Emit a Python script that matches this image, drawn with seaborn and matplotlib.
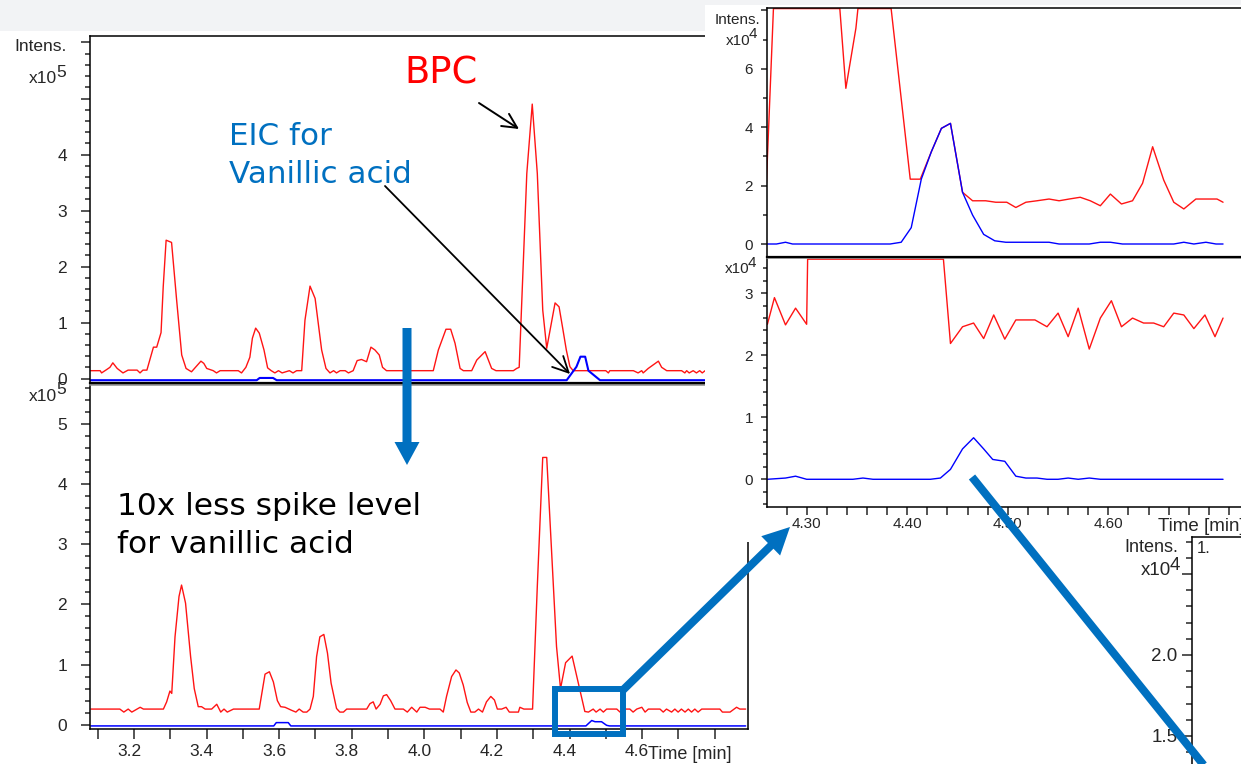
import numpy as np
import matplotlib
matplotlib.use("Agg")
import matplotlib.pyplot as plt
import seaborn as sns
from matplotlib.patches import Rectangle, FancyArrow
from matplotlib.ticker import MultipleLocator, FixedLocator, FuncFormatter
from matplotlib.transforms import ScaledTranslation

# ---------------------------------------------------------------- data
# Run 1 (full spike level): time [min], intensity [x1e5]
a_bpc_t = [3.122, 3.148, 3.152, 3.166, 3.175, 3.183, 3.195, 3.211, 3.225, 3.250, 3.258, 3.266,
           3.277, 3.295, 3.304, 3.316, 3.322, 3.330, 3.345, 3.359, 3.373, 3.385, 3.400, 3.426,
           3.434, 3.442, 3.460, 3.469, 3.479, 3.529, 3.538, 3.550, 3.561, 3.568, 3.577, 3.587,
           3.600, 3.610, 3.620, 3.630, 3.640, 3.650, 3.670, 3.680, 3.690, 3.704, 3.713, 3.727,
           3.741, 3.759, 3.771, 3.782, 3.792, 3.800, 3.810, 3.824, 3.833, 3.846, 3.857, 3.869,
           3.883, 3.895, 3.906, 3.918, 3.927, 3.938, 4.067, 4.081, 4.102, 4.115, 4.127, 4.141,
           4.150, 4.173, 4.187, 4.210, 4.228, 4.240, 4.288, 4.297, 4.304, 4.325, 4.340, 4.354,
           4.369, 4.380, 4.403, 4.414, 4.424, 4.434, 4.444, 4.453, 4.504, 4.543, 4.550, 4.554,
           4.619, 4.632, 4.642, 4.646, 4.660, 4.688, 4.697, 4.711, 4.752, 4.761, 4.766, 4.773,
           4.784, 4.793, 4.802, 4.809, 4.817]
a_bpc_i = [0.14, 0.14, 0.10, 0.16, 0.20, 0.28, 0.18, 0.10, 0.15, 0.15, 0.10, 0.15,
           0.15, 0.56, 0.56, 0.82, 1.64, 2.47, 2.43, 1.40, 0.42, 0.18, 0.12, 0.31,
           0.27, 0.18, 0.14, 0.10, 0.14, 0.14, 0.10, 0.20, 0.38, 0.72, 0.90, 0.81,
           0.51, 0.19, 0.14, 0.10, 0.14, 0.10, 0.14, 0.10, 0.14, 0.14, 1.04, 1.65,
           1.43, 0.51, 0.18, 0.10, 0.14, 0.10, 0.14, 0.14, 0.10, 0.14, 0.32, 0.34,
           0.30, 0.56, 0.51, 0.42, 0.20, 0.14, 0.14, 0.51, 0.88, 0.88, 0.63, 0.18,
           0.14, 0.14, 0.33, 0.48, 0.18, 0.14, 0.14, 0.18, 0.20, 3.66, 4.90, 3.66,
           1.22, 0.54, 1.35, 1.28, 0.90, 0.51, 0.21, 0.14, 0.14, 0.14, 0.10, 0.14,
           0.14, 0.10, 0.14, 0.10, 0.18, 0.31, 0.20, 0.14, 0.14, 0.10, 0.14, 0.10,
           0.14, 0.10, 0.14, 0.10, 0.14]
a_eic_t = [3.122, 3.580, 3.588, 3.625, 3.635, 4.435, 4.462, 4.473, 4.486, 4.495, 4.527, 4.817]
a_eic_i = [-0.03, -0.03, 0.01, 0.01, -0.03, -0.03, 0.21, 0.39, 0.39, 0.14, -0.03, -0.03]

# Run 2 (10x less spike level): time [min], intensity [x1e5]
b_bpc_t = [3.081, 3.161, 3.172, 3.184, 3.194, 3.217, 3.226, 3.281, 3.290, 3.299, 3.304, 3.313,
           3.324, 3.331, 3.342, 3.356, 3.366, 3.377, 3.386, 3.396, 3.414, 3.428, 3.439, 3.448,
           3.457, 3.474, 3.545, 3.561, 3.573, 3.584, 3.595, 3.604, 3.616, 3.634, 3.646, 3.655,
           3.666, 3.676, 3.685, 3.694, 3.703, 3.712, 3.723, 3.733, 3.743, 3.758, 3.767, 3.777,
           3.786, 3.841, 3.850, 3.859, 3.867, 3.878, 3.887, 3.896, 3.907, 3.919, 3.942, 3.953,
           3.965, 3.979, 3.988, 4.002, 4.014, 4.043, 4.052, 4.061, 4.075, 4.087, 4.096, 4.107,
           4.118, 4.128, 4.139, 4.149, 4.160, 4.171, 4.183, 4.193, 4.201, 4.213, 4.225, 4.234,
           4.259, 4.263, 4.274, 4.298, 4.311, 4.326, 4.337, 4.353, 4.364, 4.375, 4.389, 4.407,
           4.424, 4.442, 4.452, 4.465, 4.473, 4.484, 4.493, 4.502, 4.530, 4.539, 4.548, 4.566,
           4.575, 4.585, 4.599, 4.608, 4.617, 4.649, 4.658, 4.667, 4.681, 4.690, 4.699, 4.708,
           4.718, 4.727, 4.736, 4.745, 4.754, 4.764, 4.814, 4.821, 4.842, 4.860, 4.869, 4.885]
b_bpc_i = [0.26, 0.26, 0.21, 0.26, 0.21, 0.29, 0.26, 0.26, 0.38, 0.56, 0.52, 1.46,
           2.13, 2.32, 2.02, 1.13, 0.60, 0.30, 0.30, 0.26, 0.26, 0.34, 0.21, 0.26,
           0.21, 0.26, 0.26, 0.84, 0.88, 0.71, 0.40, 0.30, 0.29, 0.24, 0.21, 0.26,
           0.21, 0.21, 0.26, 0.47, 1.13, 1.46, 1.50, 1.19, 0.69, 0.27, 0.21, 0.21,
           0.26, 0.26, 0.35, 0.38, 0.26, 0.34, 0.48, 0.50, 0.40, 0.26, 0.26, 0.21,
           0.29, 0.21, 0.29, 0.29, 0.26, 0.26, 0.21, 0.47, 0.80, 0.91, 0.86, 0.66,
           0.37, 0.21, 0.21, 0.26, 0.21, 0.38, 0.47, 0.41, 0.26, 0.26, 0.29, 0.21,
           0.21, 0.29, 0.26, 0.26, 2.29, 4.44, 4.44, 2.57, 1.30, 0.60, 1.03, 1.14,
           0.69, 0.22, 0.21, 0.26, 0.21, 0.26, 0.21, 0.26, 0.26, 0.21, 0.26, 0.26,
           0.21, 0.26, 0.29, 0.21, 0.26, 0.26, 0.21, 0.26, 0.21, 0.26, 0.21, 0.26,
           0.21, 0.26, 0.21, 0.26, 0.21, 0.26, 0.26, 0.21, 0.21, 0.29, 0.26, 0.26]
b_eic_t = [3.081, 3.585, 3.592, 3.625, 3.632, 4.445, 4.452, 4.461, 4.470, 4.488, 4.502, 4.510, 4.885]
b_eic_i = [-0.02, -0.02, 0.035, 0.035, -0.02, -0.02, 0.02, 0.07, 0.05, 0.05, -0.01, -0.02, -0.02]

# Run 1, zoomed: time [min], intensity [x1e4] (BPC saturates above the range)
c_bpc_t = [4.260, 4.267, 4.333, 4.339, 4.349, 4.351, 4.384, 4.403, 4.413, 4.424, 4.434, 4.443,
           4.455, 4.465, 4.478, 4.488, 4.499, 4.508, 4.518, 4.529, 4.541, 4.551, 4.561, 4.572,
           4.582, 4.592, 4.602, 4.613, 4.624, 4.634, 4.644, 4.655, 4.665, 4.675, 4.687, 4.708,
           4.714]
c_bpc_i = [2.08, 9.50, 9.50, 5.33, 7.39, 9.50, 9.50, 2.22, 2.22, 3.16, 3.96, 4.13,
           1.77, 1.48, 1.48, 1.43, 1.43, 1.25, 1.43, 1.48, 1.54, 1.48, 1.54, 1.60,
           1.48, 1.31, 1.71, 1.37, 1.48, 2.08, 3.33, 2.19, 1.43, 1.20, 1.54, 1.54,
           1.43]
c_eic_t = [4.260, 4.270, 4.279, 4.286, 4.383, 4.394, 4.404, 4.414, 4.424, 4.434, 4.443, 4.455,
           4.465, 4.476, 4.487, 4.498, 4.541, 4.551, 4.581, 4.592, 4.602, 4.614, 4.665, 4.675,
           4.685, 4.697, 4.707, 4.714]
c_eic_i = [0.00, 0.00, 0.06, 0.00, 0.00, 0.06, 0.56, 2.22, 3.16, 3.96, 4.13, 1.77,
           0.99, 0.33, 0.11, 0.06, 0.06, 0.00, 0.00, 0.06, 0.06, 0.00, 0.00, 0.06,
           0.00, 0.06, 0.00, 0.00]

# Run 2, zoomed: time [min], intensity [x1e4]
d_bpc_t = [4.261, 4.268, 4.279, 4.289, 4.300, 4.301, 4.436, 4.443, 4.455, 4.466, 4.476, 4.486,
           4.497, 4.508, 4.527, 4.539, 4.550, 4.560, 4.570, 4.581, 4.592, 4.603, 4.613, 4.624,
           4.635, 4.645, 4.655, 4.665, 4.675, 4.685, 4.696, 4.706, 4.714]
d_bpc_i = [2.50, 2.93, 2.49, 2.76, 2.50, 4.50, 4.50, 2.19, 2.46, 2.52, 2.27, 2.65,
           2.26, 2.57, 2.57, 2.46, 2.68, 2.30, 2.76, 2.10, 2.60, 2.88, 2.46, 2.60,
           2.52, 2.52, 2.46, 2.68, 2.65, 2.43, 2.65, 2.30, 2.60]
d_eic_t = [4.261, 4.270, 4.279, 4.289, 4.300, 4.346, 4.356, 4.366, 4.423, 4.433, 4.443, 4.455,
           4.466, 4.476, 4.485, 4.497, 4.508, 4.518, 4.529, 4.539, 4.550, 4.560, 4.570, 4.581,
           4.592, 4.714]
d_eic_i = [0.00, 0.01, 0.02, 0.05, 0.00, 0.00, 0.02, 0.00, 0.00, 0.02, 0.16, 0.49,
           0.67, 0.49, 0.32, 0.29, 0.05, 0.02, 0.02, 0.00, 0.00, 0.02, 0.00, 0.02,
           0.00, 0.00]

# ---------------------------------------------------------------- style
sns.set_style("ticks")
plt.rcParams["font.family"] = ["Liberation Sans", "DejaVu Sans"]
NOTE_FONT = ["DejaVu Sans"]

W, H = 1241, 764
RED = "#ff1414"
EIC_BLUE = "#0000ff"
NOTE_BLUE = "#0070c0"
SPINE_W = 1.1

fig = plt.figure(figsize=(W / 100, H / 100), dpi=100, facecolor="white")


def box(x0, y0, x1, y1):
    """Axes rectangle from pixel corners (origin top-left)."""
    return [x0 / W, 1 - y1 / H, (x1 - x0) / W, (y1 - y0) / H]


def layer(z):
    ax = fig.add_axes([0, 0, 1, 1], zorder=z)
    ax.set_xlim(0, W)
    ax.set_ylim(H, 0)
    ax.axis("off")
    return ax


def trace(ax, t, v, color, lw, top=None):
    v = np.asarray(v, float)
    if top is not None:
        v = np.minimum(v, top)
    sns.lineplot(x=t, y=v, ax=ax, color=color, linewidth=lw, sort=False,
                 estimator=None, legend=False)


def frame(ax):
    for s in ax.spines.values():
        s.set_linewidth(SPINE_W)
        s.set_color("black")
    ax.set_xlabel("")
    ax.set_ylabel("")


# background strip
bg = layer(0)
bg.add_patch(Rectangle((0, 0), W, 31, facecolor="#f2f3f5", edgecolor="none"))

# ---------------------------------------------------------------- run 1 overview
ax_a = fig.add_axes(box(90, 36, 705, 383), zorder=1.2)
trace(ax_a, a_bpc_t, a_bpc_i, RED, 1.0)
trace(ax_a, a_eic_t, a_eic_i, EIC_BLUE, 1.5)
ax_a.set_xlim(3.12, 4.8166)
ax_a.set_ylim(-0.08, 6.116)
frame(ax_a)
ax_a.spines["right"].set_visible(False)
ax_a.spines["bottom"].set_linewidth(1.6)
ax_a.set_xticks([])
ax_a.yaxis.set_major_locator(FixedLocator(range(7)))
ax_a.yaxis.set_major_formatter(FuncFormatter(lambda v, p: f"{v:.0f}" if v <= 4 else ""))
ax_a.yaxis.set_minor_locator(MultipleLocator(0.2))
ax_a.tick_params(axis="y", which="major", direction="out", length=6.5, width=SPINE_W,
                 pad=10, labelsize=12.5)
ax_a.tick_params(axis="y", which="minor", direction="out", length=3.6, width=SPINE_W)

# ---------------------------------------------------------------- run 2 overview
ax_b = fig.add_axes(box(90, 384, 748, 729), zorder=1.0)
trace(ax_b, b_bpc_t, b_bpc_i, RED, 1.0)
trace(ax_b, b_eic_t, b_eic_i, EIC_BLUE, 1.1)
ax_b.set_xlim(3.0788, 4.8915)
ax_b.set_ylim(-0.071, 5.66)
frame(ax_b)
ax_b.spines["top"].set_color("#8a8a8a")
ax_b.spines["top"].set_linewidth(1.8)
ax_b.yaxis.set_major_locator(FixedLocator(range(6)))
ax_b.yaxis.set_major_formatter(FuncFormatter(lambda v, p: f"{v:.0f}"))
ax_b.yaxis.set_minor_locator(MultipleLocator(0.2))
ax_b.xaxis.set_major_locator(FixedLocator(np.round(np.arange(3.2, 4.61, 0.2), 1)))
ax_b.xaxis.set_major_formatter(FuncFormatter(lambda v, p: f"{v:.1f}"))
ax_b.xaxis.set_minor_locator(MultipleLocator(0.1))
ax_b.tick_params(axis="y", which="major", direction="out", length=6.5, width=SPINE_W,
                 pad=10, labelsize=12.5)
ax_b.tick_params(axis="y", which="minor", direction="out", length=3.6, width=SPINE_W)
ax_b.tick_params(axis="x", which="both", direction="out", length=7, width=SPINE_W,
                 pad=3.5, labelsize=12.5)
shift = ScaledTranslation(-5 / 100, 0, fig.dpi_scale_trans)
for lab in ax_b.get_xticklabels():
    lab.set_transform(lab.get_transform() + shift)

# white panel holding the zoomed traces
cover = layer(2)
cover.add_patch(Rectangle((705, 5), W - 705, 537, facecolor="white", edgecolor="none"))

# ---------------------------------------------------------------- run 1 zoom
ax_c = fig.add_axes(box(767, 8, 1250, 257), zorder=3.2)
C_TOP = 8.06
trace(ax_c, c_bpc_t, c_bpc_i, RED, 1.0, top=C_TOP)
trace(ax_c, c_eic_t, c_eic_i, EIC_BLUE, 1.0)
ax_c.set_xlim(4.2606, 4.7408)
ax_c.set_ylim(-0.445, 8.08)
frame(ax_c)
ax_c.spines["right"].set_visible(False)
ax_c.spines["bottom"].set_linewidth(1.6)
ax_c.set_xticks([])
ax_c.yaxis.set_major_locator(FixedLocator([0, 2, 4, 6, 8]))
ax_c.yaxis.set_major_formatter(FuncFormatter(lambda v, p: f"{v:.0f}" if v <= 6 else ""))
ax_c.yaxis.set_minor_locator(FixedLocator([1, 3, 5, 7]))
ax_c.tick_params(axis="y", which="major", direction="out", length=4.5, width=SPINE_W,
                 pad=5.5, labelsize=11)
ax_c.tick_params(axis="y", which="minor", direction="out", length=3, width=SPINE_W)

# ---------------------------------------------------------------- run 2 zoom
ax_d = fig.add_axes(box(767, 257, 1250, 507), zorder=3.0)
D_TOP = 3.55
trace(ax_d, d_bpc_t, d_bpc_i, RED, 1.0, top=D_TOP)
trace(ax_d, d_eic_t, d_eic_i, EIC_BLUE, 1.0)
ax_d.set_xlim(4.2606, 4.7408)
ax_d.set_ylim(-0.447, 3.585)
frame(ax_d)
ax_d.spines["right"].set_visible(False)
ax_d.spines["top"].set_color("#8a8a8a")
ax_d.spines["top"].set_linewidth(1.8)
ax_d.yaxis.set_major_locator(FixedLocator(range(4)))
ax_d.yaxis.set_major_formatter(FuncFormatter(lambda v, p: f"{v:.0f}"))
ax_d.yaxis.set_minor_locator(MultipleLocator(0.2))
ax_d.xaxis.set_major_locator(FixedLocator([4.3, 4.4, 4.5, 4.6]))
ax_d.xaxis.set_major_formatter(FuncFormatter(lambda v, p: f"{v:.2f}"))
ax_d.xaxis.set_minor_locator(MultipleLocator(0.02))
ax_d.tick_params(axis="y", which="major", direction="out", length=4.5, width=SPINE_W,
                 pad=5.5, labelsize=11)
ax_d.tick_params(axis="y", which="minor", direction="out", length=3, width=SPINE_W)
ax_d.tick_params(axis="x", which="both", direction="out", length=5.5, width=SPINE_W,
                 pad=1.5, labelsize=11)

# ---------------------------------------------------------------- third trace window (partly shown)
ax_e = fig.add_axes(box(1192, 537, 1300, 800), zorder=3.0)
ax_e.set_xlim(0, 1)
ax_e.set_ylim(1.105, 2.728)
frame(ax_e)
ax_e.set_xticks([])
ax_e.yaxis.set_major_locator(MultipleLocator(0.5))
ax_e.yaxis.set_major_formatter(FuncFormatter(lambda v, p: "" if abs(v - 2.5) < 1e-6 else f"{v:.1f}"))
ax_e.yaxis.set_minor_locator(MultipleLocator(0.1))
ax_e.tick_params(axis="y", which="major", direction="out", length=7, width=SPINE_W,
                 pad=3.5, labelsize=13.5)
ax_e.tick_params(axis="y", which="minor", direction="out", length=4, width=SPINE_W)
ax_e.text(0.04, 2.63, "1.", fontsize=12, va="baseline", ha="left")

# ---------------------------------------------------------------- labels and notes
ov = layer(10)


def sci(x, base, exp, size, lift):
    ov.text(x, base, "x10", ha="right", va="baseline", fontsize=size)
    ov.text(x - 1, base - lift, exp, ha="left", va="baseline", fontsize=size)


ov.text(67, 51, "Intens.", ha="right", va="baseline", fontsize=12.5)
sci(57, 83, "5", 12.5, 6)
sci(57, 401, "5", 12.5, 6.5)
ov.text(760, 24, "Intens.", ha="right", va="baseline", fontsize=11)
sci(750, 45, "4", 11, 7)
sci(749, 273, "4", 11, 6)
ov.text(1178, 552, "Intens.", ha="right", va="baseline", fontsize=13)
sci(1171, 575, "4", 13.5, 5.5)
ov.text(648, 759, "Time [min]", ha="left", va="baseline", fontsize=13)
ov.text(1158, 531, "Time [min]", ha="left", va="baseline", fontsize=13.5)

ov.text(404, 84, "BPC", color="#ff0000", fontsize=26.5, family=NOTE_FONT,
        ha="left", va="baseline")
ov.text(229, 145, "EIC for", color=NOTE_BLUE, fontsize=22.3, family=NOTE_FONT,
        ha="left", va="baseline")
ov.text(229, 183, "Vanillic acid", color=NOTE_BLUE, fontsize=22.3, family=NOTE_FONT,
        ha="left", va="baseline")
ov.text(117, 515, "10x less spike level", color="black", fontsize=22.5, family=NOTE_FONT,
        ha="left", va="baseline")
ov.text(117, 553, "for vanillic acid", color="black", fontsize=22.5, family=NOTE_FONT,
        ha="left", va="baseline")

ov.annotate("", xy=(519, 129), xytext=(479, 103),
            arrowprops=dict(arrowstyle="->", color="black", lw=1.4, mutation_scale=26,
                            shrinkA=0, shrinkB=0))
ov.annotate("", xy=(570, 374), xytext=(385, 186),
            arrowprops=dict(arrowstyle="->", color="black", lw=1.3, mutation_scale=28,
                            shrinkA=0, shrinkB=0))

# highlight of the EIC region and the links to the zoomed views
ov.add_patch(FancyArrow(407, 328, 0, 137, width=9, head_width=25, head_length=23,
                        length_includes_head=True, color=NOTE_BLUE, lw=0))
ov.add_patch(Rectangle((555, 688.5), 68, 45, fill=False, edgecolor=NOTE_BLUE, lw=4.3))
ov.add_patch(FancyArrow(623, 690, 790 - 623, 527 - 690, width=8, head_width=27,
                        head_length=27, length_includes_head=True, color=NOTE_BLUE, lw=0))
ov.plot([972, 1235], [477, 804], color=NOTE_BLUE, lw=5.8, solid_capstyle="butt")

fig.savefig("out.png", dpi=100, facecolor="white")
